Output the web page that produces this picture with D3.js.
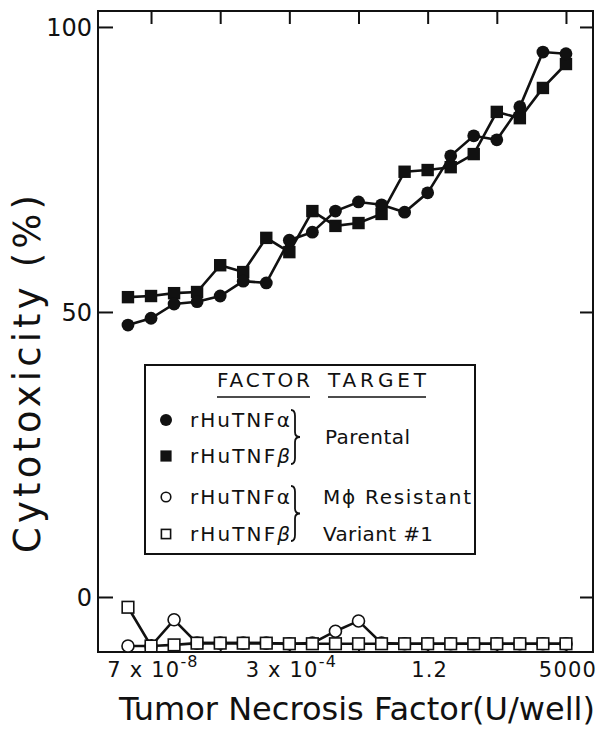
<!DOCTYPE html>
<html><head><meta charset="utf-8">
<script src="https://cdn.jsdelivr.net/npm/d3@7"></script>
<style>body{margin:0;background:#fff}svg{display:block}text{font-family:"DejaVu Sans","Liberation Sans",sans-serif;fill:#111}</style>
</head><body>
<svg id="c" width="598" height="730"></svg>
<script>
// dose (U/well), fourfold dilution series
const doses = [1.82e-8, 7.28e-8, 2.91e-7, 1.16e-6, 4.66e-6, 1.86e-5, 7.45e-5, 2.98e-4, 1.19e-3, 4.77e-3,
               1.91e-2, 7.63e-2, 0.305, 1.22, 4.88, 19.5, 78.1, 312.5, 1250, 5000];
const alphaParental = [47.7, 48.9, 51.4, 51.8, 52.8, 55.4, 55.1, 62.6, 64.0, 67.7,
                       69.3, 68.8, 67.5, 70.9, 77.4, 80.9, 80.2, 86.0, 95.6, 95.3];
const betaParental  = [52.6, 52.8, 53.3, 53.5, 58.2, 57.0, 63.0, 60.5, 67.7, 65.1,
                       65.6, 67.2, 74.6, 74.9, 75.4, 77.7, 85.1, 84.0, 89.3, 93.5];
const alphaVariant  = [-8.6, -8.6, -4.0, -8.1, -8.1, -8.1, -8.1, -8.2, -8.1, -6.0,
                       -4.2, -8.1, -8.2, -8.2, -8.2, -8.2, -8.2, -8.2, -8.2, -8.2];
const betaVariant   = [-1.8, -8.6, -8.4, -8.1, -8.1, -8.1, -8.1, -8.2, -8.2, -8.2,
                       -8.2, -8.2, -8.2, -8.2, -8.2, -8.2, -8.2, -8.2, -8.2, -8.2];
const xTicks = [7.28e-8, 4.66e-6, 2.98e-4, 1.91e-2, 1.22, 78.1, 5000];
const xTickLabels = [{v:7.28e-8, base:"7 x 10", exp:"-8"}, {v:2.98e-4, base:"3 x 10", exp:"-4"},
                     {v:1.22, base:"1.2", exp:""}, {v:5000, base:"5000", exp:""}];
const yTicks = [0, 50, 100];

const svg = d3.select("#c");
const L = 98, R = 593, T = 11, B = 652;
const x = d3.scaleLog().domain([3.0e-9, 2.54e4]).range([L, R]);
const y = d3.scaleLinear().domain([-9.65, 102.8]).range([B, T]);

// frame
svg.append("rect").attr("x", L).attr("y", T).attr("width", R - L).attr("height", B - T)
  .attr("fill", "none").attr("stroke", "#111").attr("stroke-width", 2);

// axes with inward ticks
const tk = 13;
svg.append("g").attr("transform", `translate(${L},0)`)
  .call(d3.axisRight(y).tickValues(yTicks).tickSize(tk+2).tickFormat(""))
  .call(g => g.select(".domain").remove())
  .selectAll("line").attr("stroke", "#111").attr("stroke-width", 2);
svg.append("g").attr("transform", `translate(${R},0)`)
  .call(d3.axisLeft(y).tickValues(yTicks).tickSize(tk).tickFormat(""))
  .call(g => g.select(".domain").remove())
  .selectAll("line").attr("stroke", "#111").attr("stroke-width", 2);
svg.append("g").attr("transform", `translate(0,${T})`)
  .call(d3.axisBottom(x).tickValues(xTicks).tickSize(tk).tickFormat(""))
  .call(g => g.select(".domain").remove())
  .selectAll("line").attr("stroke", "#111").attr("stroke-width", 2);
svg.append("g").attr("transform", `translate(0,${B})`)
  .call(d3.axisTop(x).tickValues(xTicks).tickSize(tk).tickFormat(""))
  .call(g => g.select(".domain").remove())
  .selectAll("line").attr("stroke", "#111").attr("stroke-width", 2);

// y tick labels
svg.append("g").selectAll("text").data(yTicks).join("text")
  .attr("x", 92).attr("y", d => y(d)).attr("dy", "0.36em")
  .attr("text-anchor", "end").attr("font-size", 24).text(d => d);

// x tick labels
const xl = svg.append("g").selectAll("text").data(xTickLabels).join("text")
  .attr("x", d => x(d.v) + 2).attr("y", 677).attr("text-anchor", "middle")
  .attr("font-size", 21).attr("letter-spacing", 1.2);
xl.append("tspan").text(d => d.base);
xl.append("tspan").attr("dy", -10).attr("font-size", 16).text(d => d.exp);

// axis titles
svg.append("text").attr("x", 119).attr("y", 720).attr("font-size", 32)
  .attr("textLength", 476).attr("lengthAdjust", "spacing")
  .text("Tumor Necrosis Factor(U/well)");
svg.append("text").attr("transform", "translate(40,553) rotate(-90)")
  .attr("font-size", 37).attr("textLength", 358).attr("lengthAdjust", "spacing")
  .text("Cytotoxicity (%)");

// lines and markers
const line = d3.line().x((d, i) => x(doses[i])).y(d => y(d));
const series = [
  {v: alphaVariant, shape: "circle", fill: "#fff"},
  {v: betaVariant, shape: "square", fill: "#fff"},
  {v: betaParental, shape: "square", fill: "#111"},
  {v: alphaParental, shape: "circle", fill: "#111"}
];
series.forEach(s => {
  svg.append("path").datum(s.v).attr("d", line).attr("fill", "none")
    .attr("stroke", "#111").attr("stroke-width", 2.6);
});
series.forEach(s => {
  const g = svg.append("g");
  if (s.shape === "circle") {
    g.selectAll("circle").data(s.v).join("circle")
      .attr("cx", (d, i) => x(doses[i])).attr("cy", d => y(d))
      .attr("r", s.fill === "#fff" ? 6 : 6.4)
      .attr("fill", s.fill).attr("stroke", "#111").attr("stroke-width", s.fill === "#fff" ? 1.6 : 0);
  } else {
    const h = s.fill === "#fff" ? 5.8 : 6.2;
    g.selectAll("rect").data(s.v).join("rect")
      .attr("x", (d, i) => x(doses[i]) - h).attr("y", d => y(d) - h)
      .attr("width", 2*h).attr("height", 2*h)
      .attr("fill", s.fill).attr("stroke", "#111").attr("stroke-width", s.fill === "#fff" ? 1.6 : 0);
  }
});

// legend
const lg = svg.append("g");
lg.append("rect").attr("x", 145).attr("y", 365).attr("width", 330).attr("height", 189)
  .attr("fill", "#fff").attr("stroke", "#111").attr("stroke-width", 2);
const fs = 20;
lg.append("text").attr("x", 217).attr("y", 387).attr("font-size", fs).attr("textLength", 93).text("FACTOR");
lg.append("text").attr("x", 328).attr("y", 387).attr("font-size", fs).attr("textLength", 98).text("TARGET");
lg.append("line").attr("x1", 217).attr("x2", 310).attr("y1", 397).attr("y2", 397).attr("stroke", "#111").attr("stroke-width", 1.6);
lg.append("line").attr("x1", 328).attr("x2", 426).attr("y1", 397).attr("y2", 397).attr("stroke", "#111").attr("stroke-width", 1.6);

const rows = [
  {y: 420, shape: "circle", fill: "#111", g: "α"},
  {y: 456, shape: "square", fill: "#111", g: "β"},
  {y: 497, shape: "circle", fill: "#fff", g: "α"},
  {y: 534, shape: "square", fill: "#fff", g: "β"}
];
rows.forEach(r => {
  if (r.shape === "circle") {
    lg.append("circle").attr("cx", 166).attr("cy", r.y).attr("r", r.fill === "#fff" ? 4.8 : 6)
      .attr("fill", r.fill).attr("stroke", "#111").attr("stroke-width", r.fill === "#fff" ? 1.6 : 0);
  } else {
    const h = r.fill === "#fff" ? 4.6 : 5.6;
    lg.append("rect").attr("x", 166 - h).attr("y", r.y - h).attr("width", 2*h).attr("height", 2*h)
      .attr("fill", r.fill).attr("stroke", "#111").attr("stroke-width", r.fill === "#fff" ? 1.6 : 0);
  }
  const t = lg.append("text").attr("x", 190).attr("y", r.y + 7).attr("font-size", fs)
    .attr("textLength", 100).attr("lengthAdjust", "spacing");
  t.append("tspan").text("rHuTNF");
  t.append("tspan").attr("font-style", r.g === "β" ? "italic" : "normal").text(r.g);
});
function brace(y1, y2, xb) {
  const m = (y1 + y2) / 2;
  return `M${xb-4},${y1} Q${xb},${y1} ${xb},${y1+6} L${xb},${m-5} Q${xb},${m} ${xb+5},${m} Q${xb},${m} ${xb},${m+5} L${xb},${y2-6} Q${xb},${y2} ${xb-4},${y2}`;
}
lg.append("path").attr("d", brace(410, 464, 295)).attr("fill", "none").attr("stroke", "#111").attr("stroke-width", 1.8);
lg.append("path").attr("d", brace(486, 541, 295)).attr("fill", "none").attr("stroke", "#111").attr("stroke-width", 1.8);
lg.append("text").attr("x", 325).attr("y", 444).attr("font-size", fs).attr("textLength", 85).text("Parental");
lg.append("text").attr("x", 323).attr("y", 504).attr("font-size", fs).attr("textLength", 148).text("Mϕ Resistant");
lg.append("text").attr("x", 323).attr("y", 541).attr("font-size", fs).attr("textLength", 110).text("Variant #1");
</script>
</body></html>
